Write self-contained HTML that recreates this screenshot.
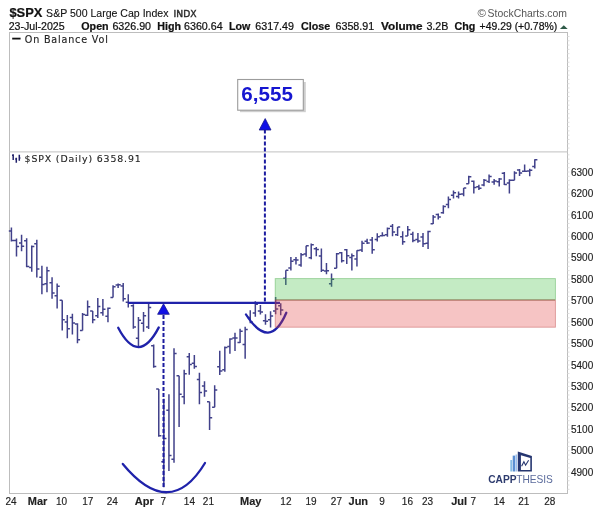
<!DOCTYPE html>
<html><head><meta charset="utf-8"><title>$SPX</title>
<style>
html,body{margin:0;padding:0;background:#fff;}
body{width:600px;height:510px;overflow:hidden;}
svg{display:block;will-change:transform;}
.a{font-family:"Liberation Sans",Arial,sans-serif;}
.v{font-family:"DejaVu Sans",Verdana,sans-serif;}
</style></head><body>
<svg width="600" height="510" viewBox="0 0 600 510">
<rect width="600" height="510" fill="#fff"/>
<!-- header -->
<g class="a" fill="#111" stroke="#111" stroke-width="0.22">
<text x="9.4" y="17.25" font-size="12.9" font-weight="bold">$SPX</text>
<text x="46.1" y="16.9" font-size="10.55" stroke-width="0.1">S&amp;P 500 Large Cap Index</text>
<text x="173.6" y="16.7" font-size="9.2" class="v" fill="#2a2a2a" stroke="#2a2a2a" stroke-width="0.4">INDX</text>
<text x="8.7" y="29.7" font-size="10.6">23-Jul-2025</text>
<g font-size="10.7">
<text x="81.3" y="29.7" font-weight="bold">Open</text>
<text x="112.4" y="29.7">6326.90</text>
<text x="157.3" y="29.7" font-weight="bold">High</text>
<text x="184" y="29.7">6360.64</text>
<text x="229" y="29.7" font-weight="bold">Low</text>
<text x="255.3" y="29.7">6317.49</text>
<text x="301.1" y="29.7" font-weight="bold">Close</text>
<text x="335.5" y="29.7">6358.91</text>
<text x="381" y="29.7" font-weight="bold" textLength="41.6" lengthAdjust="spacingAndGlyphs">Volume</text>
<text x="426.4" y="29.7">3.2B</text>
<text x="454.5" y="29.7" font-weight="bold">Chg</text>
<text x="479.6" y="29.7" textLength="77.6" lengthAdjust="spacingAndGlyphs">+49.29 (+0.78%)</text>
</g>
</g>
<path d="M559.9 29L563.8 25.3L567.7 29Z" fill="#2e5a48"/>
<text x="477.6" y="17.2" class="a" font-size="11.5" fill="#555">&#169;</text><text x="487.6" y="17.1" class="a" font-size="10.7" fill="#555" textLength="79.4" lengthAdjust="spacingAndGlyphs">StockCharts.com</text>
<!-- frame -->
<rect x="9.5" y="32.5" width="558" height="461" fill="none" stroke="#bdbdbd" stroke-width="1"/>
<line x1="9.5" y1="151.8" x2="567.5" y2="151.8" stroke="#cdcdcd" stroke-width="1.3"/>
<path d="M567.5 154.85h2M567.5 159.14h2M567.5 163.42h2M567.5 167.71h2M567.5 172.00h2M567.5 176.29h2M567.5 180.58h2M567.5 184.86h2M567.5 189.15h2M567.5 193.44h2M567.5 197.73h2M567.5 202.02h2M567.5 206.30h2M567.5 210.59h2M567.5 214.88h2M567.5 219.17h2M567.5 223.46h2M567.5 227.74h2M567.5 232.03h2M567.5 236.32h2M567.5 240.61h2M567.5 244.90h2M567.5 249.18h2M567.5 253.47h2M567.5 257.76h2M567.5 262.05h2M567.5 266.34h2M567.5 270.62h2M567.5 274.91h2M567.5 279.20h2M567.5 283.49h2M567.5 287.78h2M567.5 292.06h2M567.5 296.35h2M567.5 300.64h2M567.5 304.93h2M567.5 309.22h2M567.5 313.50h2M567.5 317.79h2M567.5 322.08h2M567.5 326.37h2M567.5 330.66h2M567.5 334.94h2M567.5 339.23h2M567.5 343.52h2M567.5 347.81h2M567.5 352.10h2M567.5 356.38h2M567.5 360.67h2M567.5 364.96h2M567.5 369.25h2M567.5 373.54h2M567.5 377.82h2M567.5 382.11h2M567.5 386.40h2M567.5 390.69h2M567.5 394.98h2M567.5 399.26h2M567.5 403.55h2M567.5 407.84h2M567.5 412.13h2M567.5 416.42h2M567.5 420.70h2M567.5 424.99h2M567.5 429.28h2M567.5 433.57h2M567.5 437.86h2M567.5 442.14h2M567.5 446.43h2M567.5 450.72h2M567.5 455.01h2M567.5 459.30h2M567.5 463.58h2M567.5 467.87h2M567.5 472.16h2M567.5 476.45h2M567.5 480.74h2M567.5 485.02h2M567.5 489.31h2M567.5 36.50h2M567.5 40.79h2M567.5 45.08h2M567.5 49.37h2M567.5 53.66h2M567.5 57.95h2M567.5 62.24h2M567.5 66.53h2M567.5 70.82h2M567.5 75.11h2M567.5 79.40h2M567.5 83.69h2M567.5 87.98h2M567.5 92.27h2M567.5 96.56h2M567.5 100.85h2M567.5 105.14h2M567.5 109.43h2M567.5 113.72h2M567.5 118.01h2M567.5 122.30h2M567.5 126.59h2M567.5 130.88h2M567.5 135.17h2M567.5 139.46h2M567.5 143.75h2M567.5 148.04h2" stroke="#dedede" stroke-width="1"/>
<!-- top panel legend -->
<line x1="12.2" y1="38.6" x2="20.6" y2="38.6" stroke="#111" stroke-width="1.8"/>
<text x="24.8" y="42.8" class="v" font-size="9.6" letter-spacing="0.82" fill="#222" stroke="#222" stroke-width="0.12">On Balance Vol</text>
<!-- main legend -->
<g stroke="#22226a" stroke-width="1.5" fill="none">
<path d="M13.2 154.3V160M12 155.2h1.2M16.3 157.7V162.8M15.2 159h1.1M19.3 154.7V160.7M19.3 158h1.1"/>
</g>
<text x="24.6" y="161.8" class="v" font-size="9.4" letter-spacing="0.86" fill="#222" stroke="#222" stroke-width="0.12">$SPX (Daily) 6358.91</text>
<!-- bars -->
<path d="M11.41 227.43V241.58M8.81 231.08H11.41M11.41 240.42H14.01M16.49 238.40V256.49M13.89 240.53H16.49M16.49 246.44H19.09M21.57 234.71V251.29M18.97 243.08H21.57M21.57 246.26H24.17M26.65 238.17V267.17M24.05 240.71H26.65M26.65 266.57H29.25M31.74 245.55V271.71M29.14 267.61H31.74M31.74 246.60H34.34M36.82 239.81V277.46M34.22 243.63H36.82M36.82 269.12H39.42M41.90 265.82V294.30M39.30 277.23H41.90M41.90 284.51H44.50M46.98 266.79V292.20M44.38 283.81H46.98M46.98 270.65H49.58M52.06 277.21V298.80M49.46 282.85H52.06M52.06 293.03H54.66M57.14 283.46V308.55M54.54 295.71H57.14M57.14 286.22H59.74M62.22 300.15V330.54M59.62 300.15H62.22M62.22 319.67H64.82M67.31 315.00V338.19M64.71 322.02H67.31M67.31 328.81H69.91M72.39 313.73V334.39M69.79 317.46H72.39M72.39 322.95H74.99M77.47 323.28V343.30M74.87 324.00H77.47M77.47 339.67H80.07M82.55 313.07V330.57M79.95 330.57H82.55M82.55 314.43H85.15M87.63 300.55V316.11M85.03 315.15H87.63M87.63 306.65H90.23M92.71 311.08V323.28M90.11 311.08H92.71M92.71 319.65H95.31M97.79 298.01V318.03M95.19 315.84H97.79M97.79 306.62H100.39M102.88 298.91V315.85M100.28 312.72H102.88M102.88 309.28H105.48M107.96 307.57V322.14M105.36 316.20H107.96M107.96 308.28H110.56M113.04 285.15V297.42M110.44 297.42H113.04M113.04 286.78H115.64M118.12 283.45V288.06M115.52 285.00H118.12M118.12 284.83H120.72M123.20 283.12V301.49M120.60 285.90H123.20M123.20 298.68H125.80M128.28 294.37V307.55M125.68 302.24H128.28M128.28 302.74H130.88M133.36 304.34V328.73M130.76 305.75H133.36M133.36 326.90H135.96M138.45 316.88V346.72M135.85 338.30H138.45M138.45 320.25H141.05M143.53 311.93V331.72M140.93 323.33H143.53M143.53 315.69H146.13M148.61 302.31V328.93M146.01 326.94H148.61M148.61 307.55H151.21M153.69 344.40V367.77M151.09 345.86H153.69M153.69 366.54H156.29M158.77 388.98V436.75M156.17 388.98H158.77M158.77 435.85H161.37M163.85 398.78V487.24M161.25 461.71H163.85M163.85 438.40H166.45M168.93 394.28V471.03M166.33 410.17H168.93M168.93 455.48H171.53M174.01 348.31V462.86M171.41 459.24H174.01M174.01 353.56H176.61M179.10 375.86V427.00M176.50 375.86H179.10M179.10 394.16H181.70M184.18 369.78V404.32M181.58 396.84H184.18M184.18 373.67H186.78M189.26 353.01V374.82M186.66 356.77H189.26M189.26 364.51H191.86M194.34 354.96V368.71M191.74 363.22H194.34M194.34 366.52H196.94M199.42 372.84V404.32M196.82 379.61H199.42M199.42 392.51H202.02M204.50 381.20V396.84M201.90 386.12H204.50M204.50 391.01H207.10M209.58 401.71V429.93M206.98 401.71H209.58M209.58 417.77H212.18M214.67 385.23V407.14M212.07 407.14H214.67M214.67 389.92H217.27M219.75 350.81V375.11M217.15 366.67H219.75M219.75 370.98H222.35M224.83 346.58V371.82M222.23 369.80H224.83M224.83 347.57H227.43M229.91 338.26V353.79M227.31 346.51H229.91M229.91 338.88H232.51M234.99 332.76V351.04M232.39 338.02H234.99M234.99 338.12H237.59M240.07 328.83V343.07M237.47 342.39H240.07M240.07 331.22H242.67M245.15 326.71V358.65M242.55 344.42H245.15M245.15 329.45H247.75M250.24 310.14V323.37M247.64 317.40H250.24M250.24 321.91H252.84M255.32 301.16V316.77M252.72 312.93H255.32M255.32 304.17H257.92M260.40 304.88V314.39M257.80 310.91H260.40M260.40 311.97H263.00M265.48 314.14V324.87M262.88 320.78H265.48M265.48 321.32H268.08M270.56 311.28V327.39M267.96 319.74H270.56M270.56 316.08H273.16M275.64 296.99V314.13M273.04 310.91H275.64M275.64 309.06H278.24M280.72 303.24V315.14M278.12 305.72H280.72M280.72 309.92H283.32M285.81 270.31V285.02M283.21 278.14H285.81M285.81 270.31H288.41M290.89 256.89V270.42M288.29 268.05H290.89M290.89 261.21H293.49M295.97 257.01V264.46M293.37 259.63H295.97M295.97 259.91H298.57M301.05 253.03V266.70M298.45 264.90H301.05M301.05 254.67H303.65M306.13 245.71V256.67M303.53 254.02H306.13M306.13 245.76H308.73M311.21 243.57V259.24M308.61 257.69H311.21M311.21 244.64H313.81M316.29 246.91V256.32M313.69 248.71H316.29M316.29 249.62H318.89M321.38 248.57V272.10M318.78 256.07H321.38M321.38 270.22H323.98M326.46 263.03V274.26M323.86 270.94H326.46M326.46 270.78H329.06M331.54 273.47V286.82M328.94 283.70H331.54M331.54 279.20H334.14M336.62 253.08V268.19M334.02 268.19H336.62M336.62 253.68H339.22M341.70 252.08V262.38M339.10 252.77H341.70M341.70 260.78H344.30M346.78 249.04V263.95M344.18 249.73H346.78M346.78 255.70H349.38M351.86 253.55V270.42M349.26 257.53H351.86M351.86 255.80H354.46M356.95 250.27V266.61M354.35 259.03H356.95M356.95 250.59H359.55M362.03 240.83V252.08M359.43 250.03H362.03M362.03 243.19H364.63M367.11 238.86V244.10M364.51 241.35H367.11M367.11 243.09H369.71M372.19 236.88V253.76M369.59 239.90H372.19M372.19 249.87H374.79M377.27 233.19V241.41M374.67 239.60H377.27M377.27 236.74H379.87M382.35 232.24V236.44M379.75 235.83H382.35M382.35 235.55H384.95M387.43 227.57V236.76M384.83 234.69H387.43M387.43 228.48H390.03M392.52 224.05V236.32M389.92 226.20H392.52M392.52 232.04H395.12M397.60 227.05V235.98M395.00 234.69H397.60M397.60 227.09H400.20M402.68 231.19V244.73M400.08 236.70H402.68M402.68 241.77H405.28M407.76 225.89V235.96M405.16 235.96H407.76M407.76 229.70H410.36M412.84 231.82V242.23M410.24 234.21H412.84M412.84 240.53H415.44M417.92 232.89V242.86M415.32 239.41H417.92M417.92 240.93H420.52M423.00 232.91V247.02M420.40 236.89H423.00M423.00 243.73H425.60M428.08 230.63V249.02M425.48 243.34H428.08M428.08 231.41H430.68M433.17 214.94V224.05M430.57 223.66H433.17M433.17 217.00H435.77M438.25 213.49V219.52M435.65 214.41H438.25M438.25 217.01H440.85M443.33 205.32V213.79M440.73 212.72H443.33M443.33 206.50H445.93M448.41 196.47V208.37M445.81 204.42H448.41M448.41 199.61H451.01M453.49 190.58V198.56M450.89 195.25H453.49M453.49 192.76H456.09M458.57 191.51V198.56M455.97 196.57H458.57M458.57 194.25H461.17M463.65 187.89V196.34M461.05 194.02H463.65M463.65 187.93H466.25M468.74 175.63V183.82M466.14 183.82H468.74M468.74 176.77H471.34M473.82 180.42V193.61M471.22 181.14H473.82M473.82 187.38H476.42M478.90 184.65V190.09M476.30 186.84H478.90M478.90 188.34H481.50M483.98 178.89V186.18M481.38 185.01H483.98M483.98 180.23H486.58M489.06 174.43V183.12M486.46 181.45H489.06M489.06 176.53H491.66M494.14 178.90V184.84M491.54 181.97H494.14M494.14 180.98H496.74M499.22 178.07V186.50M496.62 181.86H499.22M499.22 179.09H501.82M504.31 171.89V184.90M501.71 173.34H504.31M504.31 184.42H506.91M509.39 179.18V193.48M506.79 182.88H509.39M509.39 180.13H511.99M514.47 171.26V180.20M511.87 180.20H514.47M514.47 172.90H517.07M519.55 168.97V175.92M516.95 169.88H519.55M519.55 173.02H522.15M524.63 164.57V171.52M522.03 171.31H524.63M524.63 171.13H527.23M529.71 168.86V176.26M527.11 170.91H529.71M529.71 170.26H532.31M534.79 159.29V168.57M532.19 166.55H534.79M534.79 159.67H537.39" stroke="#41418a" stroke-width="1.5" fill="none"/>
<!-- annotations -->
<g stroke="#1f22aa" fill="none" stroke-width="2.3" stroke-linecap="round">
<path d="M118.2 327.8Q138.5 366.5 158.8 327.4"/>
<path d="M122.8 463.9Q169.9 521 205 463"/>
<path d="M246 314.5Q269.8 351.5 286.3 312.8"/>
</g>
<line x1="127.9" y1="302.9" x2="280" y2="302.9" stroke="#2022aa" stroke-width="2.2"/>
<g stroke="#1c1ca0" stroke-width="2" stroke-dasharray="4 2">
<line x1="163.5" y1="314.9" x2="163.5" y2="487"/>
<line x1="264.9" y1="129.4" x2="264.9" y2="302"/>
</g>
<g fill="#1010e6" stroke="#1a1a8c" stroke-width="0.8" stroke-linejoin="miter">
<path d="M163.5 303.8L169.3 314.3L157.6 314.3Z"/>
<path d="M265.2 118.6L271 130L259.2 130Z"/>
</g>
<!-- zones -->
<rect x="275.2" y="278.6" width="280.2" height="21.2" fill="rgba(58,188,58,0.3)" stroke="rgba(77,173,77,0.5)" stroke-width="0.9"/>
<rect x="275.2" y="300.2" width="280.2" height="27" fill="rgba(225,58,58,0.3)" stroke="rgba(193,73,73,0.5)" stroke-width="0.9"/>
<line x1="275.6" y1="300" x2="555" y2="300" stroke="rgba(137,73,57,0.5)" stroke-width="1"/>
<!-- target box -->
<rect x="240" y="82" width="65.8" height="30.2" fill="#cfcfcf"/>
<rect x="237.7" y="79.5" width="65.6" height="30.7" fill="#fff" stroke="#9c9c9c" stroke-width="1.1"/>
<text x="241.3" y="100.9" class="a" font-size="20.6" font-weight="bold" fill="#1616d0">6,555</text>
<!-- y labels -->
<g class="a" font-size="10" fill="#222" stroke="#222" stroke-width="0.15">
<text x="571" y="175.6">6300</text><text x="571" y="197.0">6200</text><text x="571" y="218.5">6100</text><text x="571" y="239.9">6000</text><text x="571" y="261.4">5900</text><text x="571" y="282.8">5800</text><text x="571" y="304.2">5700</text><text x="571" y="325.7">5600</text><text x="571" y="347.1">5500</text><text x="571" y="368.6">5400</text><text x="571" y="390.0">5300</text><text x="571" y="411.4">5200</text><text x="571" y="432.9">5100</text><text x="571" y="454.3">5000</text><text x="571" y="475.8">4900</text>
</g>
<!-- x labels -->
<g class="a" font-size="10" fill="#222" stroke="#222" stroke-width="0.15">
<text x="11.0" y="504.8" text-anchor="middle">24</text><text x="37.5" y="504.8" text-anchor="middle" font-weight="bold" font-size="11">Mar</text><text x="61.6" y="504.8" text-anchor="middle">10</text><text x="87.8" y="504.8" text-anchor="middle">17</text><text x="112.2" y="504.8" text-anchor="middle">24</text><text x="144.2" y="504.8" text-anchor="middle" font-weight="bold" font-size="11">Apr</text><text x="163.2" y="504.8" text-anchor="middle">7</text><text x="189.4" y="504.8" text-anchor="middle">14</text><text x="208.4" y="504.8" text-anchor="middle">21</text><text x="250.8" y="504.8" text-anchor="middle" font-weight="bold" font-size="11">May</text><text x="285.9" y="504.8" text-anchor="middle">12</text><text x="311.1" y="504.8" text-anchor="middle">19</text><text x="336.4" y="504.8" text-anchor="middle">27</text><text x="358.3" y="504.8" text-anchor="middle" font-weight="bold" font-size="11">Jun</text><text x="382.1" y="504.8" text-anchor="middle">9</text><text x="407.4" y="504.8" text-anchor="middle">16</text><text x="427.5" y="504.8" text-anchor="middle">23</text><text x="459.2" y="504.8" text-anchor="middle" font-weight="bold" font-size="11">Jul</text><text x="473.3" y="504.8" text-anchor="middle">7</text><text x="499.2" y="504.8" text-anchor="middle">14</text><text x="523.8" y="504.8" text-anchor="middle">21</text><text x="549.7" y="504.8" text-anchor="middle">28</text>
</g>
<!-- logo -->
<g>
<rect x="510.3" y="460" width="1.9" height="11.5" fill="#86bde6"/>
<rect x="512.7" y="455.6" width="2.5" height="15.9" fill="#5a8ed2"/>
<rect x="515.5" y="454.5" width="1.6" height="17" fill="#9cc0ee"/>
<path fill-rule="evenodd" d="M517.8 451.4L531.9 455.9V471.5H517.8ZM520.9 455.2L530.3 457.9V470H520.9Z" fill="#263670"/>
<path d="M521.6 466.2L523.9 461.8L525.6 465.2L528.6 460.2" stroke="#263670" stroke-width="1.1" fill="none"/>
<text x="488.3" y="483.4" class="a" font-size="10.2" font-weight="bold" fill="#2d3b6e" textLength="64.6" lengthAdjust="spacing">CAPP<tspan font-weight="normal" fill="#5b6b9c">THESIS</tspan></text>
</g>
</svg>
</body></html>
